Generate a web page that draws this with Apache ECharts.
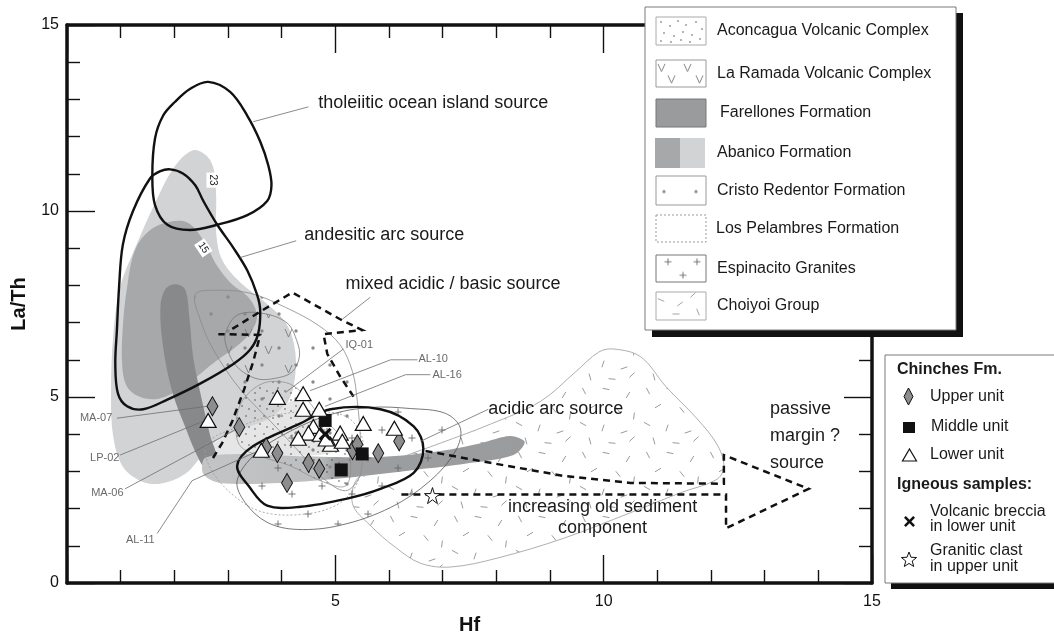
<!DOCTYPE html>
<html>
<head>
<meta charset="utf-8">
<title>La/Th vs Hf provenance diagram</title>
<script src="https://cdn.jsdelivr.net/npm/echarts@6/dist/echarts.min.js"></script>
<style>
  html, body { margin: 0; padding: 0; background: #fff; }
  #chart { width: 1054px; height: 640px; }
</style>
</head>
<body>
<div id="chart"></div>
<script>
const FONT = "'Liberation Sans', Arial, Helvetica, sans-serif";

// ---- Axis ranges and labels ----
const xRange = [0, 15];
const yRange = [0, 15];
const axisStep = 5;
const xName = 'Hf';
const yName = 'La/Th';

// ---- Field outlines (Hf, La/Th) ----
const abanicoLight = [[2.35,11.63],[2.61,11.47],[2.74,11.09],[2.78,10.35],[2.78,9.41],[2.89,8.69],[3.23,8.08],[3.69,7.55],[4.07,7.01],[4.24,6.35],[4.25,5.55],[4.12,4.88],[3.79,4.43],[3.32,4.16],[2.95,3.95],[2.67,3.68],[2.48,3.36],[2.20,2.93],[1.74,2.67],[1.36,2.75],[1.03,3.15],[0.86,3.95],[0.82,5.01],[0.86,6.61],[0.99,7.95],[1.27,9.01],[1.64,10.21],[2.01,11.20]];
const abanicoPale = [[2.48,3.36],[2.95,3.95],[3.79,4.43],[4.16,4.88],[4.44,4.75],[4.81,4.08],[5.00,3.55],[3.97,3.41],[2.85,3.36]];
const abanicoDark = [[1.27,8.96],[1.55,9.49],[1.92,9.71],[2.26,9.68],[2.57,9.15],[2.76,8.61],[3.04,8.08],[3.38,7.68],[3.54,7.20],[3.45,6.80],[3.19,6.40],[2.76,5.95],[2.29,5.41],[1.83,5.01],[1.46,4.96],[1.14,5.23],[1.03,5.81],[1.04,6.88],[1.12,7.95]];
const farellonesStrip = [[2.01,8.03],[2.20,7.89],[2.28,7.15],[2.35,6.08],[2.50,5.01],[2.67,3.95],[2.78,3.36],[2.59,3.09],[2.43,3.41],[2.20,4.21],[1.96,5.15],[1.79,6.35],[1.74,7.41],[1.83,7.89]];
const farellonesBand = [[2.57,3.36],[3.23,3.47],[4.35,3.41],[5.84,3.39],[6.96,3.55],[7.71,3.76],[8.26,3.95],[8.53,3.79],[8.32,3.44],[7.39,3.20],[6.46,3.04],[5.22,2.83],[3.97,2.69],[2.85,2.69],[2.54,2.93]];
const choiyoi = [[10.19,6.29],[10.69,6.08],[11.16,5.28],[11.75,4.40],[12.13,3.68],[12.24,3.09],[12.09,2.77],[11.44,2.43],[10.50,1.89],[9.25,1.20],[8.02,0.67],[7.15,0.43],[6.59,0.53],[6.12,0.96],[5.65,1.55],[5.32,2.13],[5.43,2.83],[6.21,3.36],[6.96,3.76],[7.89,4.27],[8.82,4.88],[9.48,5.68],[9.91,6.21]];
const espinacito = [[3.17,2.75],[3.32,2.16],[3.73,1.63],[4.29,1.44],[5.09,1.55],[6.03,2.03],[6.77,2.75],[7.24,3.55],[7.33,4.16],[7.05,4.56],[6.40,4.69],[5.65,4.72],[4.91,4.53],[4.16,4.08],[3.51,3.47]];
const cristoRedentor = [[2.39,7.76],[2.76,7.87],[3.41,7.79],[4.07,7.41],[4.68,6.93],[5.09,6.40],[5.32,5.68],[5.41,4.88],[5.47,3.81],[5.47,2.93],[5.19,2.48],[4.72,2.88],[4.35,3.49],[3.79,4.35],[3.23,5.20],[2.72,6.29],[2.48,7.09]];
const laRamada = [[2.95,6.69],[3.17,7.20],[3.64,7.25],[4.10,6.99],[4.29,6.48],[4.33,6.08],[4.20,5.68],[3.94,5.52],[3.54,5.49],[3.17,5.81],[2.99,6.27]];
const aconcagua = [[3.64,5.36],[4.07,5.39],[4.35,5.15],[4.72,4.48],[5.09,3.95],[5.28,3.28],[5.19,2.61],[4.72,2.75],[4.16,3.15],[3.60,3.41],[3.23,3.68],[3.15,4.21],[3.26,4.88]];
const losPelambres = [[2.57,3.55],[2.76,2.88],[3.23,2.21],[3.69,1.89],[4.35,1.84],[4.96,2.05],[5.34,2.51],[5.49,3.15],[5.49,3.95],[5.19,4.48],[4.53,4.61],[3.79,4.48],[3.13,4.16],[2.71,3.89]];

// ---- Source fields (heavy outlines) ----
const oceanIsland = [[2.63,13.47],[3.04,13.20],[3.36,12.56],[3.60,11.87],[3.75,11.23],[3.81,10.69],[3.73,10.27],[3.36,9.89],[2.80,9.63],[2.29,9.49],[1.87,9.63],[1.64,10.16],[1.59,10.96],[1.64,11.95],[1.79,12.56],[2.01,12.93],[2.29,13.28]];
const andesiticArc = [[1.92,11.12],[2.16,11.01],[2.39,10.69],[2.54,10.27],[2.80,9.63],[3.10,9.01],[3.36,8.40],[3.54,7.76],[3.60,7.33],[3.56,6.69],[3.41,6.27],[3.10,5.89],[2.48,5.36],[1.87,4.93],[1.42,4.67],[1.12,4.75],[0.95,5.09],[0.90,5.89],[0.93,6.80],[0.97,7.95],[1.04,9.09],[1.23,10.00],[1.55,10.88],[1.74,11.07]];
const acidicArc = [[3.17,3.15],[3.41,2.56],[3.73,2.08],[4.35,2.05],[5.22,2.27],[5.84,2.53],[6.46,2.96],[6.64,3.60],[6.46,4.21],[5.84,4.67],[4.91,4.67],[4.35,4.29],[3.47,3.68]];
const mixedLeft = [[2.72,3.36],[2.89,3.76],[3.08,4.35],[3.30,5.20],[3.47,5.95],[3.60,6.67],[2.82,6.69]];
const mixedRight = [[3.08,6.83],[3.64,7.33],[4.20,7.81],[5.09,7.09],[5.50,6.80],[4.78,6.69],[4.85,6.16],[5.09,5.55],[5.34,5.01]];
const sedimentArrow = [[6.68,3.55],[7.89,3.23],[9.25,2.88],[10.50,2.69],[12.24,2.67],[12.24,3.44],[13.82,2.53],[12.28,1.47],[12.28,2.38],[6.21,2.38]];

// ---- Leader lines ----
const leaders = [
  [[3.47,12.40],[4.50,12.80]],
  [[3.23,8.75],[4.27,9.20]],
  [[5.13,7.09],[5.65,7.68]],
  [[7.85,4.67],[6.59,3.81]],
  [[0.93,4.43],[2.61,4.75]],
  [[0.99,3.44],[2.54,4.35]],
  [[1.08,2.53],[3.15,4.13]],
  [[1.68,1.33],[2.33,2.75],[3.56,3.55]],
  [[5.15,6.29],[4.07,5.12]],
  [[6.53,6.00],[6.03,6.00],[4.53,5.17]],
  [[6.77,5.60],[6.31,5.60],[4.81,4.75]]
];

// ---- Text annotations [Hf, La/Th, text, align] ----
const fieldNames = [
  [4.68, 12.91, 'tholeiitic ocean island source', 'left'],
  [4.42, 9.36, 'andesitic arc source', 'left'],
  [5.19, 8.03, 'mixed acidic / basic source', 'left'],
  [7.85, 4.69, 'acidic arc source', 'left'],
  [13.10, 4.67, 'passive', 'left'],
  [13.10, 3.95, 'margin ?', 'left'],
  [13.10, 3.23, 'source', 'left'],
  [9.98, 2.05, 'increasing old sediment', 'center'],
  [9.98, 1.49, 'component', 'center']
];
const sampleNames = [
  [0.24, 4.43, 'MA-07'],
  [0.43, 3.36, 'LP-02'],
  [0.45, 2.43, 'MA-06'],
  [1.10, 1.17, 'AL-11'],
  [5.19, 6.40, 'IQ-01'],
  [6.55, 6.03, 'AL-10'],
  [6.81, 5.60, 'AL-16']
];
// contour tags [Hf, La/Th, text, rotation]
const contourTags = [
  [2.71, 10.83, '23', -Math.PI / 2],
  [2.54, 9.01, '15', -0.98]
];

// ---- Chinches Fm. samples ----
const upperUnit = [[2.71,4.75],[3.21,4.19],[3.71,3.65],[3.92,3.49],[4.50,3.23],[4.70,3.07],[4.10,2.69],[5.32,3.57],[5.41,3.73],[5.80,3.49],[6.19,3.81]];
const middleUnit = [[4.81,4.37],[5.50,3.47],[5.11,3.04]];
const lowerUnit = [[2.63,4.37],[3.92,4.99],[4.40,5.09],[4.40,4.67],[4.70,4.67],[4.59,4.21],[4.50,4.03],[4.31,3.89],[4.72,4.00],[4.91,3.73],[5.09,4.03],[5.13,3.81],[5.52,4.29],[6.10,4.16],[3.62,3.57],[4.83,3.87]];
const volcanicBreccia = [[4.81,4.00]];
const graniticClast = [[6.81,2.35]];

// ---- Fill patterns ----
function makeCanvas(w, h, draw) {
  const c = document.createElement('canvas');
  c.width = w; c.height = h;
  draw(c.getContext('2d'));
  return c;
}
function makePattern(w, h, draw) {
  return { image: makeCanvas(w, h, draw), repeat: 'repeat' };
}
function dot(g, x, y, r) { g.beginPath(); g.arc(x, y, r, 0, Math.PI * 2); g.fill(); }
function vee(g, x, y) { g.beginPath(); g.moveTo(x, y); g.lineTo(x + 3.5, y + 8); g.lineTo(x + 7, y); g.stroke(); }
function plus(g, x, y) { g.beginPath(); g.moveTo(x - 3.5, y); g.lineTo(x + 3.5, y); g.moveTo(x, y - 3.5); g.lineTo(x, y + 3.5); g.stroke(); }
function tick(g, x, y, a) {
  const dx = 3.5 * Math.cos(a), dy = 3.5 * Math.sin(a);
  g.beginPath(); g.moveTo(x - dx, y - dy); g.lineTo(x + dx, y + dy); g.stroke();
}
const fineDotSpots = [[3,4],[12,2],[8,10],[15,13],[3,15]];
const dashSpots = [[8,7,1.1],[30,5,0.2],[52,11,2.1],[18,22,2.6],[42,26,0.9],[58,32,1.7],[7,40,0.5],[27,44,1.9],[48,48,2.8],[14,57,1.3],[36,59,0.1],[56,55,2.4]];

const patFineDots = makePattern(18, 18, g => { g.fillStyle = '#333'; fineDotSpots.forEach(([x, y]) => dot(g, x, y, 0.7)); });
const patV = makePattern(40, 36, g => { g.strokeStyle = '#7a7a7a'; g.lineWidth = 0.9; [[5,5],[25,22]].forEach(([x, y]) => vee(g, x, y)); });
const patGreyDots = makePattern(34, 34, g => { g.fillStyle = '#8a8a8a'; [[7,8],[24,25]].forEach(([x, y]) => dot(g, x, y, 1.7)); });
const patCross = makePattern(60, 56, g => { g.strokeStyle = '#666'; g.lineWidth = 0.9; [[8,10],[38,20],[22,38],[52,46]].forEach(([x, y]) => plus(g, x, y)); });
const patDash = makePattern(64, 64, g => { g.strokeStyle = '#8e8e8e'; g.lineWidth = 0.9; dashSpots.forEach(([x, y, a]) => tick(g, x, y, a)); });

// ---- Series builders ----
function shapeSeries(pts, style, opts) {
  const o = opts || {};
  return {
    type: 'custom', coordinateSystem: 'cartesian2d', silent: true, animation: false,
    data: pts,
    renderItem(params, api) {
      if (params.dataIndex !== 0) return null;
      const points = pts.map(p => api.coord(p));
      return {
        type: o.open ? 'polyline' : 'polygon',
        shape: { points, smooth: o.smooth === undefined ? 0.35 : o.smooth },
        style: Object.assign({ fill: o.open ? null : 'none' }, style)
      };
    }
  };
}
function textSeries(items, style) {
  return {
    type: 'custom', coordinateSystem: 'cartesian2d', silent: true, animation: false,
    data: items.map(t => [t[0], t[1]]),
    renderItem(params, api) {
      const it = items[params.dataIndex];
      const p = api.coord([api.value(0), api.value(1)]);
      return {
        type: 'text', x: p[0], y: p[1],
        style: Object.assign({ text: it[2], align: it[3] || 'left', verticalAlign: 'middle', fontFamily: FONT }, style)
      };
    }
  };
}
function tagSeries(items) {
  return {
    type: 'custom', coordinateSystem: 'cartesian2d', silent: true, animation: false,
    data: items.map(t => [t[0], t[1]]),
    renderItem(params, api) {
      const it = items[params.dataIndex];
      const p = api.coord([api.value(0), api.value(1)]);
      return {
        type: 'text', x: p[0], y: p[1], rotation: it[3],
        style: { text: it[2], align: 'center', verticalAlign: 'middle', fontFamily: FONT, fontSize: 10, fill: '#222', backgroundColor: '#fff', padding: [1, 2] }
      };
    }
  };
}
function leaderSeries(lines) {
  return {
    type: 'custom', coordinateSystem: 'cartesian2d', silent: true, animation: false,
    data: lines.map(l => l[0]),
    renderItem(params, api) {
      const l = lines[params.dataIndex];
      return { type: 'polyline', shape: { points: l.map(p => api.coord(p)) }, style: { stroke: '#6d6d6d', lineWidth: 0.8, fill: null } };
    }
  };
}

const heavy = { stroke: '#111', lineWidth: 2.4 };
const dashedHeavy = { stroke: '#111', lineWidth: 2.5, lineDash: [7, 5] };

const X_PATH = 'path://M0,2 L2,0 L6,4 L10,0 L12,2 L8,6 L12,10 L10,12 L6,8 L2,12 L0,10 L4,6 Z';
const STAR_PATH = 'path://M50,2 L61,36 L97,36 L68,57 L79,92 L50,71 L21,92 L32,57 L3,36 L39,36 Z';

const bandFill = new echarts.graphic.LinearGradient(0, 0, 1, 0, [
  { offset: 0, color: '#c3c4c6' }, { offset: 0.36, color: '#bdbec0' },
  { offset: 0.42, color: '#9d9ea0' }, { offset: 1, color: '#9a9b9d' }
]);

const series = [
  shapeSeries(abanicoLight, { fill: '#d2d3d5' }),
  shapeSeries(abanicoPale, { fill: '#e6e6e7' }),
  shapeSeries(abanicoDark, { fill: '#a7a8aa' }),
  shapeSeries(farellonesStrip, { fill: '#88898b' }),
  shapeSeries(choiyoi, { fill: patDash, stroke: '#9a9a9a', lineWidth: 0.8 }),
  shapeSeries(farellonesBand, { fill: bandFill }, { smooth: 0.3 }),
  shapeSeries(espinacito, { fill: patCross, stroke: '#555', lineWidth: 0.8 }),
  shapeSeries(cristoRedentor, { fill: patGreyDots, stroke: '#8a8a8a', lineWidth: 0.8 }),
  shapeSeries(laRamada, { fill: patV, stroke: '#777', lineWidth: 0.8 }),
  shapeSeries(aconcagua, { fill: patFineDots, stroke: '#8a8a8a', lineWidth: 0.7 }),
  shapeSeries(losPelambres, { stroke: '#999', lineWidth: 0.8, lineDash: [2, 2] }),
  shapeSeries(oceanIsland, heavy),
  shapeSeries(andesiticArc, heavy),
  shapeSeries(acidicArc, heavy),
  shapeSeries(mixedLeft, dashedHeavy, { open: true, smooth: 0 }),
  shapeSeries(mixedRight, dashedHeavy, { open: true, smooth: 0 }),
  shapeSeries(sedimentArrow, dashedHeavy, { open: true, smooth: 0 }),
  leaderSeries(leaders),
  tagSeries(contourTags),
  textSeries(fieldNames, { fontSize: 18, fill: '#1a1a1a' }),
  textSeries(sampleNames, { fontSize: 11, fill: '#6a6a6a' }),
  { name: 'Upper unit', type: 'scatter', data: upperUnit, symbol: 'diamond', symbolSize: [11, 19],
    itemStyle: { color: '#8d8d8f', borderColor: '#111', borderWidth: 1, opacity: 1 }, silent: true, animation: false },
  { name: 'Middle unit', type: 'scatter', data: middleUnit, symbol: 'rect', symbolSize: 13,
    itemStyle: { color: '#111', opacity: 1 }, silent: true, animation: false },
  { name: 'Lower unit', type: 'scatter', data: lowerUnit, symbol: 'triangle', symbolSize: [16, 14],
    itemStyle: { color: '#fff', borderColor: '#111', borderWidth: 1.2, opacity: 1 }, silent: true, animation: false },
  { name: 'Volcanic breccia', type: 'scatter', data: volcanicBreccia, symbol: X_PATH, symbolSize: 13,
    itemStyle: { color: '#111', opacity: 1 }, silent: true, animation: false },
  { name: 'Granitic clast', type: 'scatter', data: graniticClast, symbol: STAR_PATH, symbolSize: 16,
    itemStyle: { color: '#fff', borderColor: '#111', borderWidth: 1, opacity: 1 }, silent: true, animation: false }
];

// ---- Axes: framed box with inward ticks ----
function axisCommon(showLabels, isX) {
  return {
    type: 'value', min: isX ? xRange[0] : yRange[0], max: isX ? xRange[1] : yRange[1], interval: axisStep,
    axisLine: { show: true, onZero: false, lineStyle: { color: '#111', width: 3.5 } },
    axisTick: { show: true, inside: true, length: 28, lineStyle: { color: '#111', width: 1.4 } },
    minorTick: { show: true, splitNumber: 5, length: 13, lineStyle: { color: '#111', width: 1.4 } },
    splitLine: { show: false },
    axisLabel: showLabels ? {
      show: true, fontFamily: FONT, fontSize: 16, color: '#111', margin: isX ? 11 : 8,
      formatter: v => (isX && v === 0) ? '' : String(v)
    } : { show: false }
  };
}

// ---- Legend swatches ----
const SW = 50, SH = 28;
const swatchAconcagua = makeCanvas(SW, SH, g => {
  g.fillStyle = '#333';
  [[5,5],[14,9],[22,4],[30,8],[40,5],[46,12],[8,16],[18,19],[27,15],[36,18],[44,22],[5,24],[15,25],[25,23],[34,25]].forEach(([x, y]) => dot(g, x, y, 0.7));
});
const swatchRamada = makeCanvas(SW, SH, g => {
  g.strokeStyle = '#777'; g.lineWidth = 0.9;
  [[2,4],[28,4],[12,16],[40,16]].forEach(([x, y]) => vee(g, x, y));
});
const swatchCristo = makeCanvas(SW, SH, g => { g.fillStyle = '#8a8a8a'; dot(g, 8, 15, 1.6); dot(g, 40, 15, 1.6); });
const swatchEspinacito = makeCanvas(SW, SH, g => {
  g.strokeStyle = '#666'; g.lineWidth = 0.9; plus(g, 12, 7); plus(g, 41, 7); plus(g, 27, 21);
});
const swatchChoiyoi = makeCanvas(SW, SH, g => {
  g.strokeStyle = '#999'; g.lineWidth = 0.9;
  tick(g, 5, 8, 0.4); tick(g, 37, 3, 2.4); tick(g, 24, 12, 2.5); tick(g, 20, 22, 0); tick(g, 42, 20, 1.2);
});
const legendRows = [
  { y: 17, h: 28, text: 'Aconcagua Volcanic Complex', img: swatchAconcagua, stroke: '#aaa' },
  { y: 60, h: 27, text: 'La Ramada Volcanic Complex', img: swatchRamada, stroke: '#999' },
  { y: 99, h: 28, text: 'Farellones Formation', fill: '#9a9b9d', stroke: '#777', tx: 720 },
  { y: 138, h: 30, text: 'Abanico Formation', split: true },
  { y: 176, h: 29, text: 'Cristo Redentor Formation', img: swatchCristo, stroke: '#999' },
  { y: 215, h: 27, text: 'Los Pelambres Formation', stroke: '#999', dash: [2, 2], tx: 716 },
  { y: 255, h: 27, text: 'Espinacito Granites', img: swatchEspinacito, stroke: '#777' },
  { y: 292, h: 28, text: 'Choiyoi Group', img: swatchChoiyoi, stroke: '#aaa' }
];
const graphics = [
  { type: 'rect', z: 100, shape: { x: 652, y: 13, width: 311, height: 324 }, style: { fill: '#111' } },
  { type: 'rect', z: 101, shape: { x: 645, y: 7, width: 311, height: 323 }, style: { fill: '#fff', stroke: '#7a7a7a', lineWidth: 1 } }
];
legendRows.forEach(r => {
  if (r.split) {
    graphics.push({ type: 'rect', z: 102, shape: { x: 655, y: r.y, width: 25, height: r.h }, style: { fill: '#a7a8aa' } });
    graphics.push({ type: 'rect', z: 102, shape: { x: 680, y: r.y, width: 25, height: r.h }, style: { fill: '#d2d3d5' } });
  } else {
    if (r.img) graphics.push({ type: 'image', z: 102, style: { image: r.img, x: 656, y: r.y, width: SW, height: r.h } });
    graphics.push({ type: 'rect', z: 103, shape: { x: 656, y: r.y, width: SW, height: r.h },
      style: { fill: r.fill || 'none', stroke: r.stroke, lineWidth: 1, lineDash: r.dash || null } });
  }
  graphics.push({ type: 'text', z: 102, x: r.tx || 717, y: r.y + r.h / 2,
    style: { text: r.text, fontFamily: FONT, fontSize: 16, fill: '#1a1a1a', align: 'left', verticalAlign: 'middle' } });
});

graphics.push(
  { type: 'rect', z: 100, shape: { x: 891, y: 361, width: 180, height: 228 }, style: { fill: '#111' } },
  { type: 'rect', z: 101, shape: { x: 885, y: 355, width: 180, height: 228 }, style: { fill: '#fff', stroke: '#7a7a7a', lineWidth: 1 } }
);
const legend2Text = [
  [897, 370, 'Chinches Fm.', 'bold'],
  [930, 397, 'Upper unit'],
  [931, 427, 'Middle unit'],
  [930, 455, 'Lower unit'],
  [897, 485, 'Igneous samples:', 'bold'],
  [930, 512, 'Volcanic breccia'],
  [930, 527, 'in lower unit'],
  [930, 551, 'Granitic clast'],
  [930, 567, 'in upper unit']
];
legend2Text.forEach(t => graphics.push({ type: 'text', z: 102, x: t[0], y: t[1],
  style: { text: t[2], fontFamily: FONT, fontSize: 16, fontWeight: t[3] || 'normal', fill: '#1a1a1a', align: 'left', verticalAlign: 'middle' } }));
function starPoints(cx, cy, R, r) {
  const pts = [];
  for (let i = 0; i < 10; i++) {
    const a = -Math.PI / 2 + i * Math.PI / 5;
    const rad = i % 2 === 0 ? R : r;
    pts.push([cx + rad * Math.cos(a), cy + rad * Math.sin(a)]);
  }
  return pts;
}
const crossOutline = [[0,2],[2,0],[6,4],[10,0],[12,2],[8,6],[12,10],[10,12],[6,8],[2,12],[0,10],[4,6]]
  .map(([x, y]) => [904 + x * 11 / 12, 516 + y * 11 / 12]);
graphics.push(
  { type: 'polygon', z: 102, shape: { points: [[908.5, 388], [913, 396.5], [908.5, 405], [904, 396.5]] }, style: { fill: '#8d8d8f', stroke: '#111', lineWidth: 1 } },
  { type: 'rect', z: 102, shape: { x: 903, y: 422, width: 12, height: 11 }, style: { fill: '#111' } },
  { type: 'polygon', z: 102, shape: { points: [[909.5, 449], [916.5, 461], [902.5, 461]] }, style: { fill: '#fff', stroke: '#111', lineWidth: 1.2 } },
  { type: 'polygon', z: 102, shape: { points: crossOutline }, style: { fill: '#111' } },
  { type: 'polygon', z: 102, shape: { points: starPoints(909, 560, 8, 3.4) }, style: { fill: '#fff', stroke: '#111', lineWidth: 1 } }
);

const chart = echarts.init(document.getElementById('chart'), null, { renderer: 'canvas' });
chart.setOption({
  backgroundColor: '#fff',
  animation: false,
  grid: { left: 67, right: 182, top: 25, bottom: 52, containLabel: false },
  xAxis: [
    Object.assign(axisCommon(true, true), {
      position: 'bottom', name: xName, nameLocation: 'middle', nameGap: 32,
      nameTextStyle: { fontFamily: FONT, fontSize: 20, fontWeight: 'bold', color: '#111', verticalAlign: 'top' }
    }),
    Object.assign(axisCommon(false, true), { position: 'top' })
  ],
  yAxis: [
    Object.assign(axisCommon(true, false), {
      position: 'left', name: yName, nameLocation: 'middle', nameGap: 38,
      nameTextStyle: { fontFamily: FONT, fontSize: 20, fontWeight: 'bold', color: '#111' }
    }),
    Object.assign(axisCommon(false, false), { position: 'right' })
  ],
  series: series,
  graphic: graphics
});
</script>
</body>
</html>
